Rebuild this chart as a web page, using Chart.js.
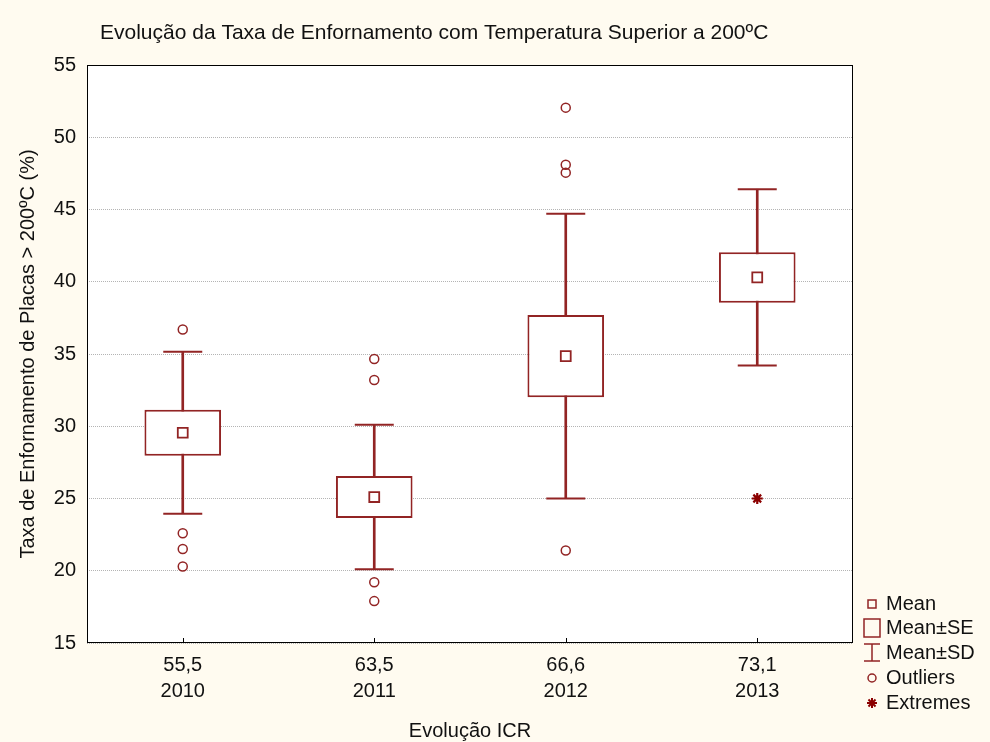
<!DOCTYPE html>
<html>
<head>
<meta charset="utf-8">
<title>Evolução da Taxa de Enfornamento</title>
<script src="https://cdn.jsdelivr.net/npm/chart.js@4.4.1/dist/chart.umd.min.js"></script>
<style>
    html, body { margin: 0; padding: 0; background: #fffbf0; }
    #wrap { width: 990px; height: 742px; position: relative; }
</style>
</head>
<body>
<div id="wrap"><canvas id="boxChart"></canvas></div>
<script>
// Data
const years = ['2010', '2011', '2012', '2013'];
const icrLabels = ['55,5', '63,5', '66,6', '73,1'];
const means = [29.55, 25.1, 34.85, 40.3];
const stdErr = [1.6, 1.45, 2.85, 1.75];
const stdDev = [5.6, 5.0, 9.85, 6.1];
const outliers = [[36.7, 22.6, 21.5, 20.3], [34.65, 33.2, 19.2, 17.9], [52.05, 48.1, 47.55, 21.4], []];
const extremes = [[], [], [], [25.0]];
const yMin = 15, yMax = 55, yStep = 5;

const RED = '#922424';
const FONT = "'Liberation Sans', Arial, sans-serif";
const legendItems = ['Mean', 'Mean±SE', 'Mean±SD', 'Outliers', 'Extremes'];

Chart.defaults.font.family = FONT;
Chart.defaults.color = '#111';

const pos = (i) => i + 1;

// background, frame, inner x ticks, title and legend
const decorPlugin = {
    id: 'decor',
    beforeDraw(chart) {
        const { ctx, chartArea: a } = chart;
        ctx.save();
        ctx.fillStyle = '#fffbf0';
        ctx.fillRect(0, 0, chart.width, chart.height);
        ctx.fillStyle = '#ffffff';
        ctx.fillRect(a.left, a.top, a.right - a.left, a.bottom - a.top);
        ctx.restore();
    },
    afterDraw(chart) {
        const { ctx, chartArea: a } = chart;
        const xs = chart.scales.x;
        ctx.save();
        ctx.strokeStyle = '#000';
        ctx.lineWidth = 1;
        ctx.strokeRect(a.left + 0.5, a.top + 0.5, a.right - a.left - 1, a.bottom - a.top - 1);
        // small tick marks pointing into the plot
        xs.ticks.forEach((t) => {
            const px = Math.round(xs.getPixelForValue(t.value)) + 0.5;
            ctx.beginPath();
            ctx.moveTo(px, a.bottom);
            ctx.lineTo(px, a.bottom - 5);
            ctx.stroke();
        });

        // title
        ctx.fillStyle = '#111';
        ctx.font = '21px ' + FONT;
        ctx.textAlign = 'left';
        ctx.textBaseline = 'middle';
        ctx.fillText('Evolução da Taxa de Enfornamento com Temperatura Superior a 200ºC', 100, 33);

        // legend
        const lx = 872, tx = 886;
        const rows = [604, 628, 653, 678, 703];
        ctx.strokeStyle = RED;
        ctx.lineWidth = 1.5;
        ctx.strokeRect(lx - 4, rows[0] - 4, 8, 8);
        ctx.strokeRect(lx - 8, rows[1] - 9, 16, 18);
        ctx.beginPath();
        ctx.moveTo(lx, rows[2] - 9); ctx.lineTo(lx, rows[2] + 8);
        ctx.moveTo(lx - 8, rows[2] - 9); ctx.lineTo(lx + 8, rows[2] - 9);
        ctx.moveTo(lx - 8, rows[2] + 8); ctx.lineTo(lx + 8, rows[2] + 8);
        ctx.stroke();
        ctx.beginPath();
        ctx.arc(lx, rows[3], 4, 0, Math.PI * 2);
        ctx.stroke();
        ctx.strokeStyle = '#8b0000';
        ctx.lineWidth = 2;
        ctx.beginPath();
        for (let k = 0; k < 4; k++) {
            const ang = k * Math.PI / 4;
            ctx.moveTo(lx - 5 * Math.cos(ang), rows[4] - 5 * Math.sin(ang));
            ctx.lineTo(lx + 5 * Math.cos(ang), rows[4] + 5 * Math.sin(ang));
        }
        ctx.stroke();
        ctx.fillStyle = '#111';
        ctx.font = '20px ' + FONT;
        legendItems.forEach((txt, i) => ctx.fillText(txt, tx, rows[i]));
        ctx.restore();
    }
};

const ctx = document.getElementById('boxChart').getContext('2d');

new Chart(ctx, {
    type: 'bar',
    data: {
        datasets: [
            {
                // Mean ± SD stem
                type: 'bar',
                data: means.map((m, i) => ({ x: pos(i), y: [m - stdDev[i], m + stdDev[i]] })),
                backgroundColor: RED,
                borderWidth: 0,
                barThickness: 2,
                grouped: false,
                order: 4
            },
            {
                // Mean ± SE box
                type: 'bar',
                data: means.map((m, i) => ({ x: pos(i), y: [m - stdErr[i], m + stdErr[i]] })),
                backgroundColor: '#ffffff',
                borderColor: RED,
                borderWidth: 2,
                borderSkipped: false,
                barPercentage: 0.4,
                categoryPercentage: 1,
                grouped: false,
                order: 3
            },
            {
                // whisker caps
                type: 'scatter',
                data: means.flatMap((m, i) => [
                    { x: pos(i), y: m + stdDev[i] },
                    { x: pos(i), y: m - stdDev[i] }
                ]),
                pointStyle: 'line',
                pointRadius: 19.5,
                pointBorderColor: RED,
                pointBorderWidth: 2,
                order: 2
            },
            {
                // mean marker
                type: 'scatter',
                data: means.map((m, i) => ({ x: pos(i), y: m })),
                pointStyle: 'rect',
                pointRadius: 7,
                pointBackgroundColor: '#ffffff',
                pointBorderColor: RED,
                pointBorderWidth: 1.8,
                order: 1
            },
            {
                // outliers
                type: 'scatter',
                data: outliers.flatMap((vals, i) => vals.map((v) => ({ x: pos(i), y: v }))),
                pointStyle: 'circle',
                pointRadius: 4.5,
                pointBackgroundColor: 'rgba(255,255,255,0)',
                pointBorderColor: RED,
                pointBorderWidth: 1.5,
                order: 0
            },
            {
                // extremes
                type: 'scatter',
                data: extremes.flatMap((vals, i) => vals.map((v) => ({ x: pos(i), y: v }))),
                pointStyle: 'star',
                pointRadius: 5.5,
                pointBorderColor: '#8b0000',
                pointBorderWidth: 2.2,
                order: 0
            }
        ]
    },
    options: {
        responsive: true,
        maintainAspectRatio: false,
        animation: false,
        layout: {
            padding: { top: 65, right: 137, left: 0, bottom: 0 }
        },
        plugins: {
            legend: { display: false },
            tooltip: { enabled: false },
            title: { display: false }
        },
        scales: {
            x: {
                type: 'linear',
                min: 0.5,
                max: years.length + 0.5,
                offset: false,
                afterBuildTicks: (scale) => {
                    scale.ticks = years.map((y, i) => ({ value: pos(i) }));
                },
                afterFit: (scale) => { scale.height = 99; },
                ticks: {
                    autoSkip: false,
                    maxRotation: 0,
                    padding: 9,
                    font: { size: 20, lineHeight: 1.3 },
                    color: '#111',
                    callback: (v) => [icrLabels[v - 1], years[v - 1]]
                },
                grid: { display: false, drawTicks: false, offset: false },
                border: { display: false },
                title: {
                    display: true,
                    text: 'Evolução ICR',
                    font: { size: 20, lineHeight: 1.1 },
                    color: '#111',
                    padding: { top: 0, bottom: 0 }
                }
            },
            y: {
                min: yMin,
                max: yMax,
                afterFit: (scale) => { scale.width = 87; },
                ticks: {
                    stepSize: yStep,
                    padding: 11,
                    font: { size: 20 },
                    color: '#111'
                },
                grid: {
                    color: '#b4b4b4',
                    lineWidth: 1,
                    drawTicks: false
                },
                border: { display: false, dash: [1, 1] },
                title: {
                    display: true,
                    text: 'Taxa de Enfornamento de Placas > 200ºC (%)',
                    font: { size: 20, lineHeight: 1.2 },
                    color: '#111',
                    padding: { top: 16, bottom: 0 }
                }
            }
        }
    },
    plugins: [decorPlugin]
});
</script>
</body>
</html>
